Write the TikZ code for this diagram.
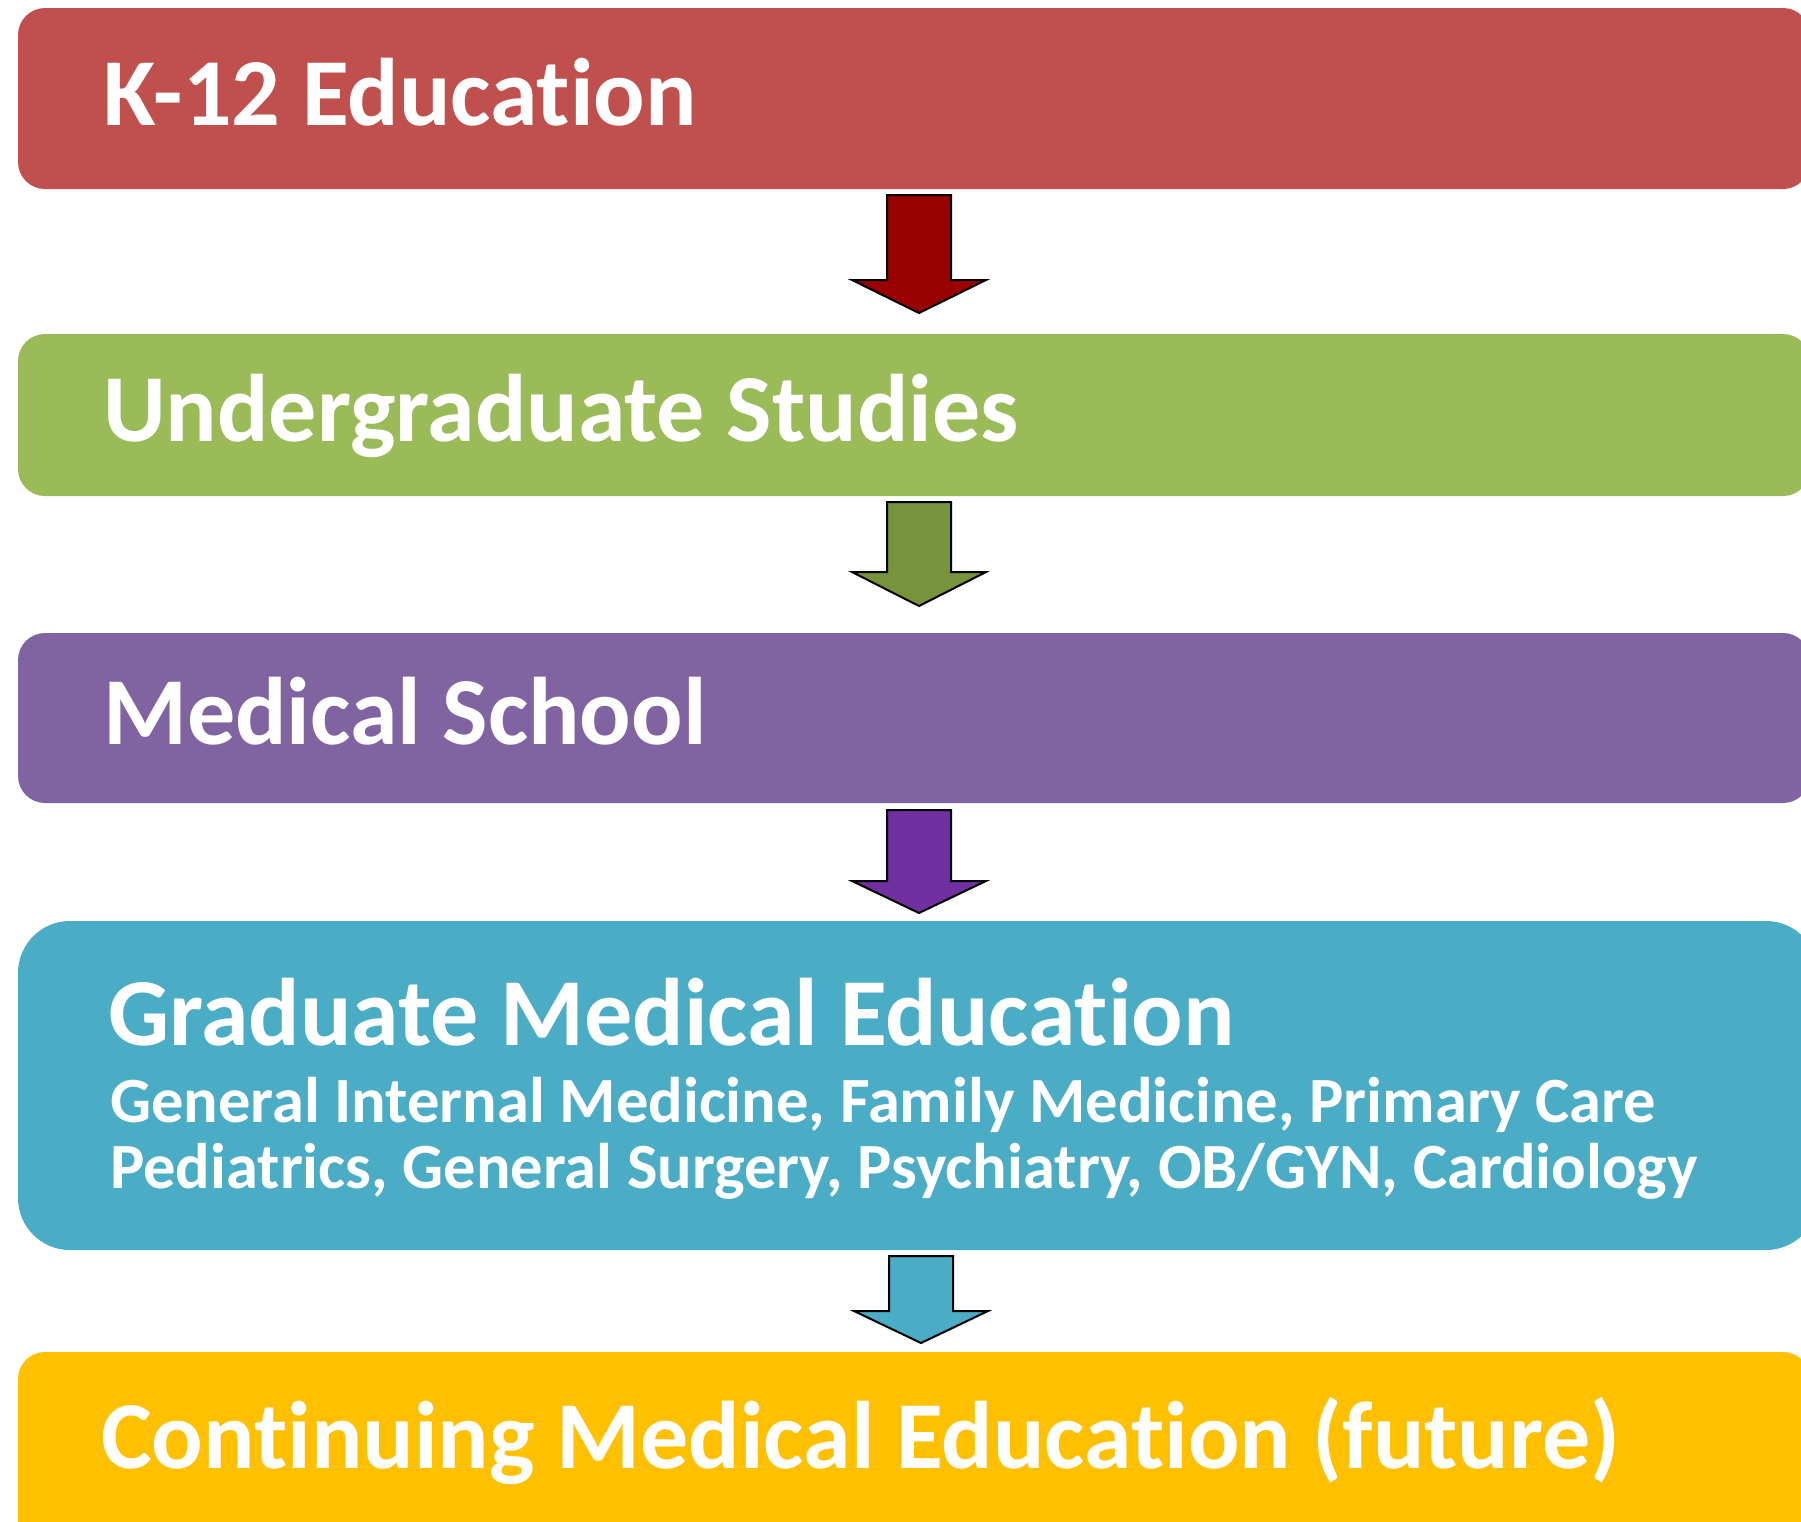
\documentclass[tikz,border=0pt]{standalone}
\usepackage{fontspec}
\setmainfont{Carlito}[Ligatures={NoCommon,NoContextual}]
\definecolor{cred}{HTML}{C0504D}
\definecolor{cgreen}{HTML}{9BBB59}
\definecolor{cpurple}{HTML}{8064A2}
\definecolor{cblue}{HTML}{4BACC6}
\definecolor{corange}{HTML}{FFC000}
\definecolor{ared}{HTML}{990000}
\definecolor{agreen}{HTML}{77933C}
\definecolor{apurple}{HTML}{7030A0}
\tikzset{
  stage/.style={rounded corners=27pt, draw=none},
  title/.style={anchor=base west, inner sep=0pt, text=white, font=\bfseries\fontsize{96}{110}\selectfont},
  sub/.style={anchor=base west, inner sep=0pt, text=white, font=\bfseries\fontsize{64.5}{76}\selectfont},
  blockarrow/.style={draw=black, line width=2pt, line join=miter}
}
\newcommand\mkarrow[5]{%
  \filldraw[blockarrow, fill=#5] (#1-32,#2) -- (#1+32,#2) -- (#1+32,#3) -- (#1+67,#3) -- (#1,#4) -- (#1-67,#3) -- (#1-32,#3) -- cycle;}
\begin{document}
\begin{tikzpicture}[x=1pt,y=-1pt]
\useasboundingbox (0,0) rectangle (1801,1521);
% boxes
\fill[stage, fill=cred] (18,8) rectangle (1810,189);
\fill[stage, fill=cgreen] (18,334) rectangle (1810,496);
\fill[stage, fill=cpurple] (18,633) rectangle (1810,803);
\fill[stage, rounded corners=52pt, fill=cblue] (18,921) rectangle (1818,1250);
\fill[stage, fill=corange] (18,1352) rectangle (1810,1560);
% arrows
\mkarrow{919}{195}{280}{313}{ared}
\mkarrow{919}{502}{572}{606}{agreen}
\mkarrow{919}{810}{881}{913}{apurple}
\mkarrow{921}{1256}{1311}{1343}{cblue}
% texts
\node[title] (t1) at (103,125) {K-12 Education};
\node[title] (t2) at (103,441) {Undergraduate Studies};
\node[title] (t3) at (103,744) {Medical School};
\node[title] (t4) at (108,1045) {Graduate Medical Education};
\node[sub] (s1) at (110,1122) {General Internal Medicine, Family Medicine, Primary Care};
\node[sub] (s2) at (110,1188) {Pediatrics, General Surgery, Psychiatry, OB/GYN, Cardiology};
\node[title] (t5) at (101,1468) {Continuing Medical Education (future)};
\end{tikzpicture}
\end{document}
